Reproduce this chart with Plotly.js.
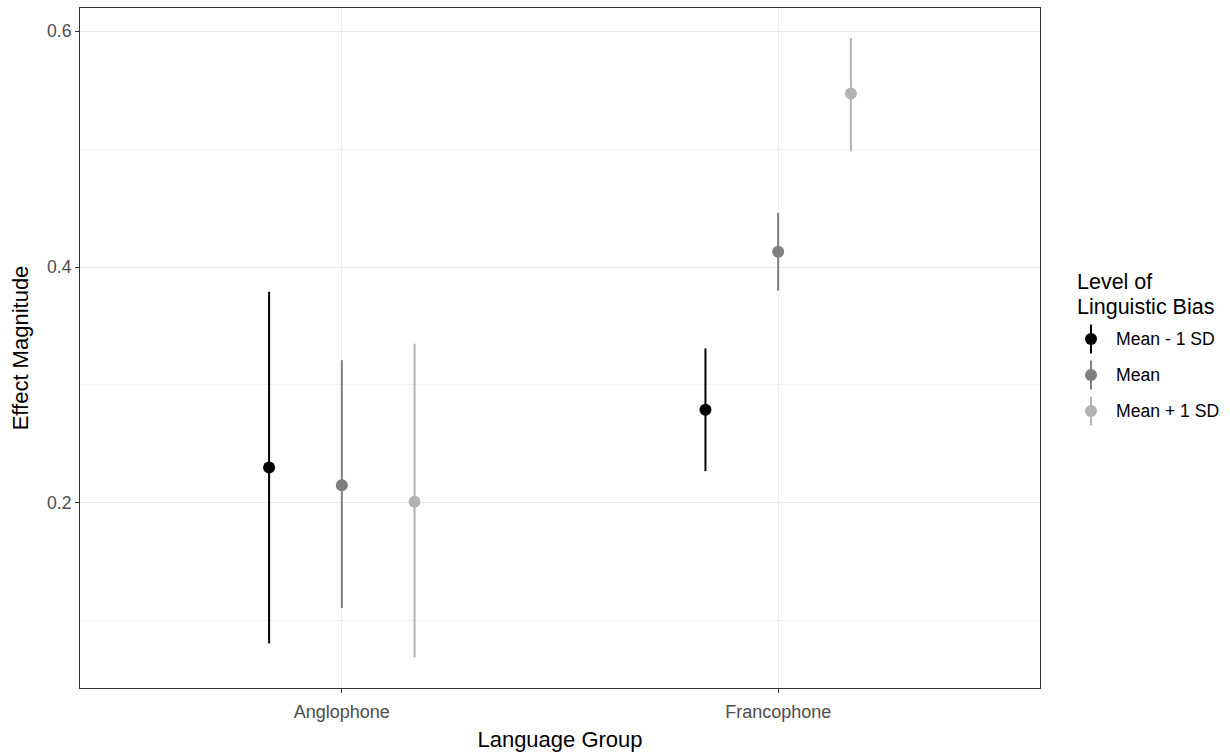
<!DOCTYPE html>
<html>
<head>
<meta charset="utf-8">
<script src="https://cdn.plot.ly/plotly-3.0.1.min.js"></script>
<style>html,body{margin:0;padding:0;background:#fff;}#chart{width:1230px;height:752px;}</style>
</head>
<body>
<div id="chart"></div>
<script>
const categories = ["Anglophone", "Francophone"];
const levels = ["Mean - 1 SD", "Mean", "Mean + 1 SD"];
const colors = ["#000000", "#7f7f7f", "#b3b3b3"];
// estimates per level: [Anglophone, Francophone]
const estMinus = [0.230, 0.279];
const lowMinus = [0.081, 0.227];
const highMinus = [0.379, 0.331];
const estMean = [0.215, 0.413];
const lowMean = [0.111, 0.380];
const highMean = [0.321, 0.446];
const estPlus = [0.201, 0.547];
const lowPlus = [0.069, 0.498];
const highPlus = [0.335, 0.594];

const est = [estMinus, estMean, estPlus];
const low = [lowMinus, lowMean, lowPlus];
const high = [highMinus, highMean, highPlus];

const dodge = 0.5;
const nLev = levels.length;
const traces = levels.map((lev, i) => {
  const off = (i - (nLev - 1) / 2) * dodge / nLev;
  const xs = categories.map((c, j) => j + 1 + off);
  return {
    type: "scatter",
    mode: "markers",
    name: lev,
    x: xs,
    y: est[i],
    marker: {color: colors[i], size: 12, line: {width: 0}},
    error_y: {
      type: "data",
      symmetric: false,
      array: est[i].map((v, j) => high[i][j] - v),
      arrayminus: est[i].map((v, j) => v - low[i][j]),
      color: colors[i],
      thickness: 2,
      width: 0
    },
    showlegend: false
  };
});

// custom legend (ggplot style: point with vertical line)
const plotL = 80, plotR = 1040, plotT = 8, plotB = 688;
const px2x = p => (p - plotL) / (plotR - plotL);
const px2y = p => (plotB - p) / (plotB - plotT);
const legTitleX = px2x(1075);
const legSymX = px2x(1091);
const legTextX = px2x(1114);
const legFirstY = 339, legStep = 36;

const annotations = [
  {text: "Level of", x: legTitleX, y: px2y(282), xref: "paper", yref: "paper", xanchor: "left", yanchor: "middle", showarrow: false, font: {size: 21.5, color: "#000000"}},
  {text: "Linguistic Bias", x: legTitleX, y: px2y(307), xref: "paper", yref: "paper", xanchor: "left", yanchor: "middle", showarrow: false, font: {size: 21.5, color: "#000000"}}
];
const shapes = [];
levels.forEach((lev, i) => {
  const yc = px2y(legFirstY + i * legStep);
  annotations.push({text: lev, x: legTextX, y: yc, xref: "paper", yref: "paper", xanchor: "left", yanchor: "middle", showarrow: false, font: {size: 17.6, color: "#000000"}});
  shapes.push({type: "line", xref: "paper", yref: "paper", x0: legSymX, x1: legSymX, ysizemode: "pixel", yanchor: yc, y0: -14.5, y1: 14.5, line: {color: colors[i], width: 2}});
  shapes.push({type: "circle", xref: "paper", yref: "paper", xsizemode: "pixel", ysizemode: "pixel", xanchor: legSymX, yanchor: yc, x0: -6, x1: 6, y0: -6, y1: 6, fillcolor: colors[i], line: {width: 0}});
});

const layout = {
  width: 1230,
  height: 752,
  margin: {l: 80, r: 190, t: 8, b: 64},
  paper_bgcolor: "#ffffff",
  plot_bgcolor: "#ffffff",
  font: {family: "Liberation Sans, Arial, sans-serif", color: "#000000"},
  showlegend: false,
  annotations: annotations,
  shapes: shapes,
  xaxis: {
    range: [0.4, 2.6],
    tickvals: [1, 2],
    ticktext: categories,
    showgrid: true,
    gridcolor: "#ebebeb",
    gridwidth: 1,
    zeroline: false,
    showline: true,
    linecolor: "#333333",
    linewidth: 1,
    mirror: true,
    ticks: "outside",
    ticklen: 4,
    tickcolor: "#333333",
    ticklabelstandoff: 3,
    tickfont: {size: 18, color: "#4d4d4d"},
    automargin: false,
    title: {text: "Language Group", font: {size: 22, color: "#000000"}, standoff: 14}
  },
  yaxis: {
    range: [0.0432, 0.6195],
    tick0: 0,
    dtick: 0.2,
    tickformat: ".1f",
    showgrid: true,
    gridcolor: "#ebebeb",
    gridwidth: 1,
    minor: {tick0: 0, dtick: 0.1, showgrid: true, gridcolor: "#f2f2f2", gridwidth: 1, ticks: ""},
    zeroline: false,
    showline: true,
    linecolor: "#333333",
    linewidth: 1,
    mirror: true,
    ticks: "outside",
    ticklen: 4,
    tickcolor: "#333333",
    tickfont: {size: 17.6, color: "#4d4d4d"},
    automargin: false,
    title: {text: "Effect Magnitude", font: {size: 22, color: "#000000"}, standoff: 12}
  }
};

Plotly.newPlot("chart", traces, layout, {displayModeBar: false, staticPlot: true});
</script>
</body>
</html>
